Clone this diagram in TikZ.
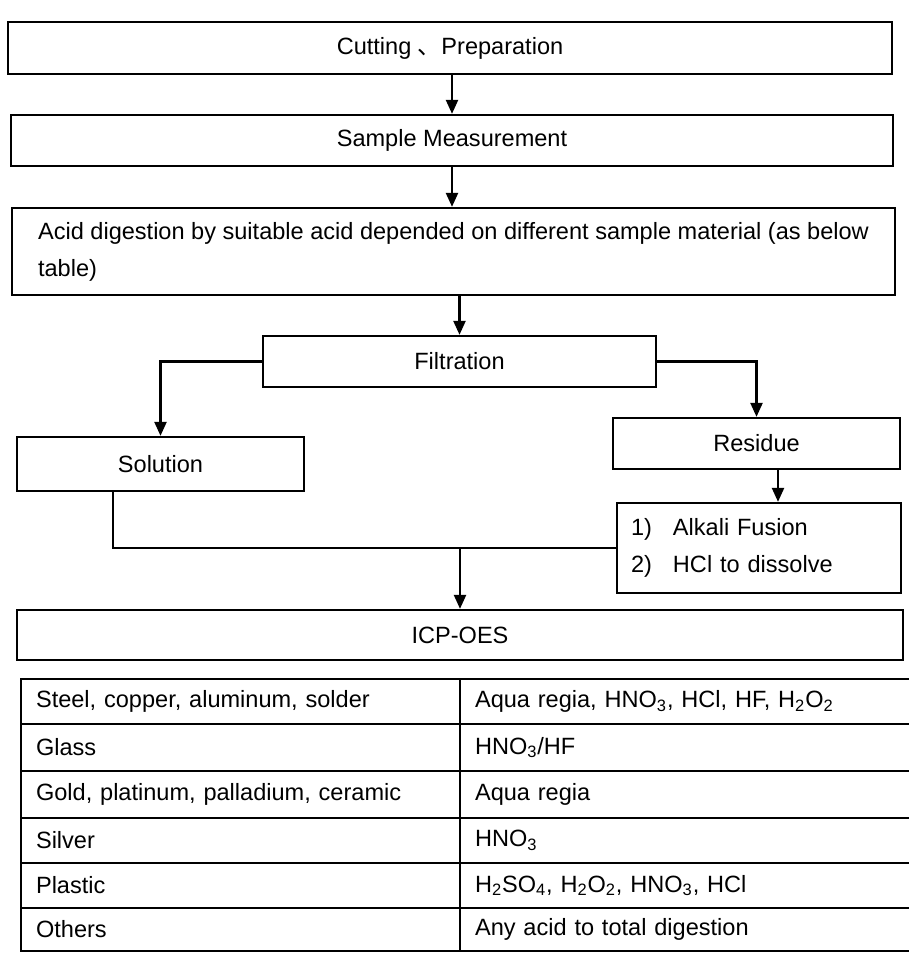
\documentclass[tikz,border=0pt]{standalone}
\usepackage{fontspec}
\setmainfont{Liberation Sans}
\newfontfamily\cjk{Noto Sans CJK SC}
\usetikzlibrary{arrows.meta}

\begin{document}
\begin{tikzpicture}[>={Triangle[length=2.8mm, width=2.4mm]}, line width=1.3pt,
  every node/.style={font=\fontsize{13.4}{21}\selectfont},
  stepbox/.style={draw, line width=1.3pt, minimum height=1.02cm, inner sep=0pt},
  cell/.style={draw, line width=1.2pt, anchor=north west, align=left, inner xsep=0.3cm, inner ysep=0pt}]
  \useasboundingbox (0,0) rectangle (18.16,-19.06);
  % flow steps
  \node[stepbox, minimum width=17.68cm, minimum height=1.04cm] (cutting) at (9.00,-0.96) {Cutting {\cjk 、}Preparation};
  \node[stepbox, minimum width=17.64cm] (sample) at (9.04,-2.81) {Sample Measurement};
  \node[stepbox, minimum width=17.66cm, minimum height=1.74cm, align=left] (digestion) at (9.07,-5.03) {Acid digestion by suitable acid depended on different sample material (as below\\table)};
  \node[stepbox, minimum width=7.86cm] (filtration) at (9.19,-7.23) {Filtration};
  \node[stepbox, minimum width=5.74cm, minimum height=1.08cm] (solution) at (3.21,-9.28) {Solution};
  \node[stepbox, minimum width=5.74cm] (residue) at (15.13,-8.87) {Residue};
  \node[stepbox, text width=5.12cm, inner xsep=0.28cm, minimum height=1.8cm, align=left] (fusion) at (15.18,-10.96) {\makebox[0.84cm][l]{1)}Alkali Fusion\\\makebox[0.84cm][l]{2)}HCl to dissolve};
  \node[stepbox, minimum width=17.72cm, minimum height=1.0cm] (icpoes) at (9.20,-12.70) {ICP-OES};
  \coordinate (merge) at (icpoes.north |- fusion.west);

  \draw[->] (cutting.south -| sample.north) -- (sample.north);
  \draw[->] (sample.south) -- (sample.south |- digestion.north);
  \draw[->] (digestion.south -| filtration.north) -- (filtration.north);
  \draw[->] (filtration.west) -| (solution.north);
  \draw[->] (filtration.east) -| (residue.north);
  \draw[->] ([xshift=0.43cm]residue.south) -- ([xshift=0.43cm]residue.south |- fusion.north);
  \draw ([xshift=-0.95cm]solution.south) |- (fusion.west);
  \draw[->] (merge) -- (icpoes.north);

  % acid table
  \foreach \i/\rowy/\rowh/\mat/\acid in {
      1/-13.56/0.90/{Steel, copper, aluminum, solder}/{Aqua regia, HNO\textsubscript{3}, HCl, HF, H\textsubscript{2}O\textsubscript{2}},
      2/-14.46/0.94/{Glass}/{HNO\textsubscript{3}/HF},
      3/-15.40/0.94/{Gold, platinum, palladium, ceramic}/{Aqua regia},
      4/-16.34/0.90/{Silver}/{HNO\textsubscript{3}},
      5/-17.24/0.90/{Plastic}/{H\textsubscript{2}SO\textsubscript{4}, H\textsubscript{2}O\textsubscript{2}, HNO\textsubscript{3}, HCl},
      6/-18.14/0.86/{Others}/{Any acid to total digestion}}
  {
    \node[cell, text width=8.18cm, minimum height=\rowh cm] (mat\i) at (0.40,\rowy) {\mat};
    \node[cell, text width=8.82cm, minimum height=\rowh cm] (acid\i) at (9.18,\rowy) {\acid};
  }
\end{tikzpicture}
\end{document}
